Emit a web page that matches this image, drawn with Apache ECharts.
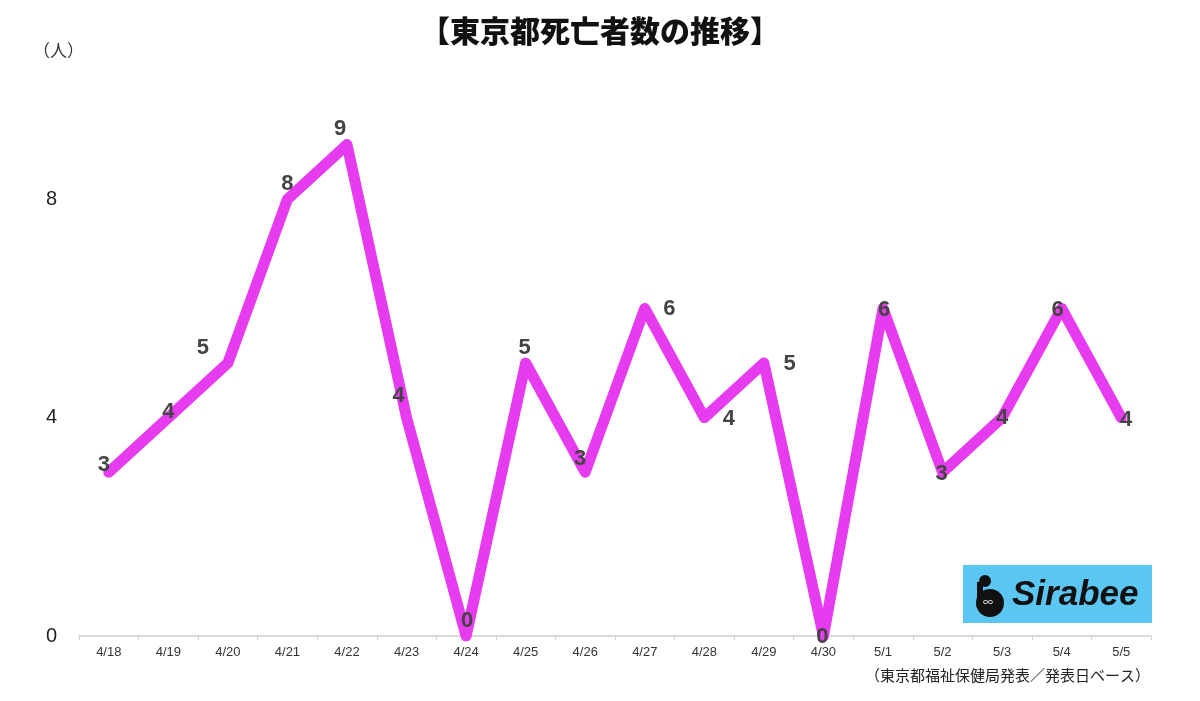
<!DOCTYPE html>
<html><head><meta charset="utf-8">
<script src="https://cdn.jsdelivr.net/npm/echarts@6/dist/echarts.min.js"></script>
<style>html,body{margin:0;padding:0;background:#fff}#c{width:1200px;height:701px}</style>
</head><body><div id="c"></div>
<script>
var categories = ['4/18','4/19','4/20','4/21','4/22','4/23','4/24','4/25','4/26','4/27','4/28','4/29','4/30','5/1','5/2','5/3','5/4','5/5'];
var deaths = [3,4,5,8,9,4,0,5,3,6,4,5,0,6,3,4,6,4];
var yTicks = [0,4,8];
var titleText = '【東京都死亡者数の推移】';
var unitText = '（人）';
var sourceText = '（東京都福祉保健局発表／発表日ベース）';

// label placement style per point
var labelPlacement = [
  {position:'top', offset:[-5,10]}, {position:'top', offset:[0,12]}, {position:'top', offset:[-25,2]},
  {position:'top', offset:[0,2]}, {position:'top', offset:[-7,2]}, {position:'top', offset:[-8,-4]},
  {position:'top', offset:[1,2]}, {position:'top', offset:[-1,2]}, {position:'top', offset:[-5,4]},
  {position:'right', offset:[12,1]}, {position:'right', offset:[12,1]}, {position:'right', offset:[13,1]},
  {position:'inside', offset:[-1,1]}, {position:'inside', offset:[1,2]}, {position:'inside', offset:[-1,2]},
  {position:'inside', offset:[0,0]}, {position:'inside', offset:[-4,2]}, {position:'inside', offset:[5,2]}
];

var chart = echarts.init(document.getElementById('c'));
var font = '"Noto Sans CJK JP", "Liberation Sans", sans-serif';
chart.setOption({
  animation: false,
  backgroundColor: '#fff',
  title: {
    text: titleText, left: 'center', top: 11,
    textStyle: {fontFamily: font, fontSize: 30, fontWeight: 900, color: '#111'}
  },
  grid: {left: 79, right: 49, top: 90, bottom: 65, containLabel: false},
  xAxis: {
    type: 'category', data: categories, boundaryGap: true,
    axisLine: {lineStyle: {color: '#d0d0d0', width: 1.5}},
    axisTick: {show: true, length: 4, lineStyle: {color: '#d0d0d0'}},
    axisLabel: {color: '#333', fontSize: 13, margin: 10, fontFamily: '"Liberation Sans", sans-serif'}
  },
  yAxis: {
    type: 'value', min: 0, max: 10, interval: 4,
    axisLine: {show: false}, axisTick: {show: false}, splitLine: {show: false},
    axisLabel: {
      color: '#222', fontSize: 20, margin: 22, fontFamily: '"Liberation Sans", sans-serif',
      formatter: function (v) { return yTicks.indexOf(v) >= 0 ? String(v) : ''; }
    }
  },
  graphic: [
    {type: 'text', left: 33, top: 42, style: {text: unitText, fontSize: 17, fill: '#333', fontFamily: font}},
    {type: 'text', right: 50, top: 668, style: {text: sourceText, fontSize: 15, fill: '#222', fontFamily: font}},
    {type: 'group', left: 963, top: 565, children: [
      {type: 'rect', shape: {x: 0, y: 0, width: 189, height: 58}, style: {fill: '#5CC6F2'}},
      {type: 'circle', shape: {cx: 27, cy: 38, r: 14}, style: {fill: '#111'}},
      {type: 'circle', shape: {cx: 22, cy: 16, r: 6}, style: {fill: '#111'}},
      {type: 'rect', shape: {x: 14, y: 17, width: 6, height: 18}, style: {fill: '#111'}},
      {type: 'text', x: 20, y: 32, style: {text: '∞', fontSize: 10, fill: '#fff', fontFamily: font}},
      {type: 'text', x: 49, y: 13, style: {text: 'Sirabee', fontSize: 35, fontWeight: 'bold', fontStyle: 'italic', fill: '#111', fontFamily: '"Liberation Sans", sans-serif'}}
    ]}
  ],
  series: [{
    type: 'line',
    data: deaths.map(function (v, i) {
      return {value: v, label: labelPlacement[i]};
    }),
    showSymbol: true,
    symbol: 'circle',
    symbolSize: 1,
    itemStyle: {color: '#E63BEF'},
    lineStyle: {color: '#E63BEF', width: 11, join: 'round', cap: 'round'},
    label: {show: true, color: '#444', fontSize: 22, fontWeight: 'bold', fontFamily: '"Liberation Sans", sans-serif', distance: 6},
    z: 3
  }]
});
</script></body></html>
